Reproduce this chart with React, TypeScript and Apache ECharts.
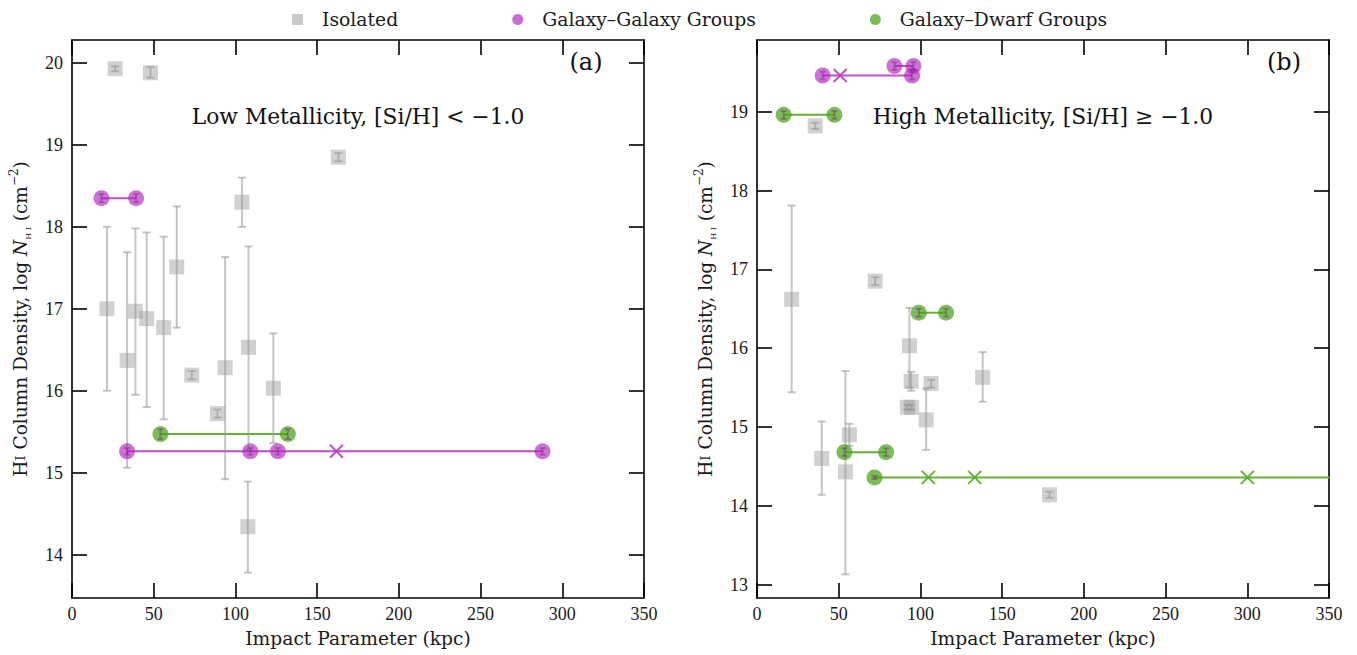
import { useEffect, useRef } from "react";
import * as echarts from "echarts";

// ---------- data ----------
// Isolated galaxies: [impact parameter (kpc), log N_HI, lower bound, upper bound]
const isolatedLow: number[][] = [
  [26.4, 19.93, 19.9, 19.96],
  [48.0, 19.88, 19.82, 19.95],
  [163.0, 18.85, 18.8, 18.9],
  [104.0, 18.3, 18.0, 18.6],
  [21.4, 17.0, 16.0, 18.0],
  [33.7, 16.37, 15.06, 17.69],
  [38.8, 16.97, 15.95, 17.98],
  [45.7, 16.88, 15.8, 17.93],
  [56.1, 16.77, 15.65, 17.88],
  [64.1, 17.51, 16.77, 18.25],
  [73.3, 16.19, 16.14, 16.24],
  [89.0, 15.72, 15.67, 15.77],
  [93.7, 16.28, 14.92, 17.63],
  [108.0, 16.53, 15.28, 17.76],
  [123.2, 16.03, 15.36, 16.7],
  [107.6, 14.34, 13.78, 14.89],
];
const isolatedHigh: number[][] = [
  [35.6, 18.82, 18.78, 18.86],
  [21.2, 16.62, 15.44, 17.81],
  [72.3, 16.85, 16.8, 16.9],
  [93.3, 16.03, 15.5, 16.51],
  [94.3, 15.58, 15.46, 15.7],
  [92.0, 15.25, 15.22, 15.28],
  [94.6, 15.25, 15.22, 15.28],
  [106.5, 15.55, 15.5, 15.6],
  [103.5, 15.09, 14.71, 15.49],
  [138.1, 15.63, 15.32, 15.95],
  [39.6, 14.6, 14.14, 15.07],
  [56.5, 14.9, 14.76, 15.04],
  [54.1, 14.43, 13.13, 15.71],
  [179.0, 14.14, 14.1, 14.18],
];
// Groups: y = log N_HI of the absorber, det = member galaxies (circles), lim = members shown as crosses
type Group = { y: number; det: number[]; lim: number[]; err: number };
const ggLow: Group[] = [
  { y: 18.35, det: [18.0, 39.2], lim: [], err: 0.05 },
  { y: 15.26, det: [33.7, 109.1, 126.0, 287.9], lim: [161.8], err: 0.04 },
];
const gdLow: Group[] = [{ y: 15.47, det: [54.1, 132.1], lim: [], err: 0.06 }];
const ggHigh: Group[] = [
  { y: 19.46, det: [40.2, 94.9], lim: [50.9], err: 0.05 },
  { y: 19.58, det: [84.1, 95.7], lim: [], err: 0.05 },
];
const gdHigh: Group[] = [
  { y: 18.96, det: [16.3, 47.4], lim: [], err: 0.05 },
  { y: 16.45, det: [99.0, 115.7], lim: [], err: 0.05 },
  { y: 14.68, det: [53.5, 79.0], lim: [], err: 0.05 },
  { y: 14.36, det: [71.9], lim: [104.9, 133.2, 300.0, 372.0], err: 0.02 },
];

const xMin = 0;
const xMax = 350;
const xInterval = 50;
const yRangeLow = [13.47, 20.28];
const yRangeHigh = [12.83, 19.91];
const yTicksLow = [14, 15, 16, 17, 18, 19, 20];
const yTicksHigh = [13, 14, 15, 16, 17, 18, 19];

// ---------- style ----------
const FONT = "'DejaVu Serif', 'Liberation Serif', serif";
const TICKFONT = "'Liberation Serif', 'DejaVu Serif', serif";
const GRAY = "rgba(150,150,150,0.55)";
const MAG = "rgba(176,40,188,0.82)";
const MAG_LINE = "rgba(185,60,195,0.9)";
const GRN = "rgba(70,160,20,0.88)";
const GRN_LINE = "rgba(95,172,45,0.95)";
const INK = "#1a1a1a";

function errBarSeries(name: string, idx: number, rows: number[][], color: string, cap: number, z: number) {
  return {
    name,
    type: "custom",
    xAxisIndex: idx * 2,
    yAxisIndex: idx * 2,
    z,
    silent: true,
    data: rows.map((r) => [r[0], r[2], r[3]]),
    encode: { x: 0, y: [1, 2] },
    renderItem: (_p: any, api: any) => {
      const x = api.value(0);
      const top = api.coord([x, api.value(2)]);
      const bot = api.coord([x, api.value(1)]);
      const st = { stroke: color, lineWidth: 2, fill: "none" };
      return {
        type: "group",
        children: [
          { type: "line", shape: { x1: top[0], y1: top[1], x2: bot[0], y2: bot[1] }, style: st },
          { type: "line", shape: { x1: top[0] - cap, y1: top[1], x2: top[0] + cap, y2: top[1] }, style: st },
          { type: "line", shape: { x1: bot[0] - cap, y1: bot[1], x2: bot[0] + cap, y2: bot[1] }, style: st },
        ],
      };
    },
  };
}

function crossSeries(name: string, idx: number, pts: number[][], color: string) {
  return {
    name,
    type: "custom",
    xAxisIndex: idx * 2,
    yAxisIndex: idx * 2,
    z: 6,
    silent: true,
    data: pts,
    encode: { x: 0, y: 1 },
    renderItem: (_p: any, api: any) => {
      const c = api.coord([api.value(0), api.value(1)]);
      const s = 6.5;
      const st = { stroke: color, lineWidth: 2, fill: "none" };
      return {
        type: "group",
        children: [
          { type: "line", shape: { x1: c[0] - s, y1: c[1] - s, x2: c[0] + s, y2: c[1] + s }, style: st },
          { type: "line", shape: { x1: c[0] - s, y1: c[1] + s, x2: c[0] + s, y2: c[1] - s }, style: st },
        ],
      };
    },
  };
}

function groupSeries(legendName: string, idx: number, groups: Group[], color: string, lineColor: string) {
  const out: any[] = [];
  groups.forEach((g, gi) => {
    const xs = [...g.det, ...g.lim];
    out.push({
      name: `${legendName}-line-${idx}-${gi}`,
      type: "line",
      xAxisIndex: idx * 2,
      yAxisIndex: idx * 2,
      z: 2,
      silent: true,
      symbol: "none",
      clip: true,
      data: [
        [Math.min(...xs), g.y],
        [Math.max(...xs), g.y],
      ],
      lineStyle: { color: lineColor, width: 2 },
    });
  });
  out.push({
    name: legendName,
    type: "scatter",
    xAxisIndex: idx * 2,
    yAxisIndex: idx * 2,
    z: 5,
    symbol: "circle",
    symbolSize: 16,
    itemStyle: { color },
    data: groups.flatMap((g) => g.det.map((x) => [x, g.y])),
  });
  out.push(
    errBarSeries(
      `${legendName}-err-${idx}`,
      idx,
      groups.flatMap((g) => g.det.map((x) => [x, g.y, g.y - g.err, g.y + g.err])),
      "rgba(120,20,130,0.35)",
      3,
      6
    )
  );
  const crosses = groups.flatMap((g) => g.lim.filter((x) => x <= xMax).map((x) => [x, g.y]));
  if (crosses.length) out.push(crossSeries(`${legendName}-lim-${idx}`, idx, crosses, lineColor));
  return out;
}

const axisLineStyle = { color: "#000", width: 1.6 };
const labelStyle = { fontFamily: TICKFONT, fontSize: 18, color: INK };

function xAxes(grid: number) {
  const base = {
    gridIndex: grid,
    type: "value",
    min: xMin,
    max: xMax,
    interval: xInterval,
    splitLine: { show: false },
    axisLine: { show: true, onZero: false, lineStyle: axisLineStyle },
    axisTick: { show: true, inside: true, length: 15, lineStyle: { color: "#000", width: 1.6 } },
  };
  return [
    {
      ...base,
      position: "bottom",
      axisLabel: { ...labelStyle, margin: 7 },
      name: "Impact Parameter (kpc)",
      nameLocation: "middle",
      nameGap: 31,
      nameTextStyle: { fontFamily: FONT, fontSize: 18.7, color: INK },
    },
    { ...base, position: "top", axisLabel: { show: false } },
  ];
}

const yName =
  "{a|H}{s|I}{a| Column Density, log }{i|N}{b|H I}{a| (cm}{p|−2}{a|)}";
const yRich = {
  a: { fontFamily: FONT, fontSize: 18.5, color: INK, lineHeight: 24 },
  s: { fontFamily: FONT, fontSize: 13.5, color: INK, lineHeight: 24 },
  i: { fontFamily: FONT, fontSize: 18.5, fontStyle: "italic", color: INK, lineHeight: 24 },
  b: { fontFamily: FONT, fontSize: 8, color: INK, lineHeight: 8, verticalAlign: "bottom" },
  p: { fontFamily: FONT, fontSize: 12, color: INK, lineHeight: 12, verticalAlign: "top" },
};

function yAxes(grid: number, range: number[], ticks: number[]) {
  const base = {
    gridIndex: grid,
    type: "value",
    min: range[0],
    max: range[1],
    splitLine: { show: false },
    axisLine: { show: true, onZero: false, lineStyle: axisLineStyle },
    axisTick: {
      show: true,
      inside: true,
      length: 15,
      customValues: ticks,
      lineStyle: { color: "#000", width: 1.6 },
    },
  };
  return [
    {
      ...base,
      position: "left",
      axisLabel: { ...labelStyle, margin: 9, customValues: ticks },
      name: yName,
      nameLocation: "middle",
      nameGap: 40,
      nameRotate: 90,
      nameTextStyle: { rich: yRich },
    },
    { ...base, position: "right", axisLabel: { show: false } },
  ];
}

function panelText(x: number, y: number, text: string, size: number) {
  return {
    type: "text",
    x,
    y,
    z: 10,
    style: {
      text,
      fontFamily: FONT,
      fontSize: size,
      fill: "#111",
      textAlign: "center",
      textVerticalAlign: "middle",
    },
  };
}

export default function App() {
  const ref = useRef<HTMLDivElement>(null);
  useEffect(() => {
    if (!ref.current) return;
    const chart = echarts.init(ref.current, undefined, { renderer: "svg" });
    const series: any[] = [];
    [isolatedLow, isolatedHigh].forEach((rows, idx) => {
      series.push({
        name: "Isolated",
        type: "scatter",
        xAxisIndex: idx * 2,
        yAxisIndex: idx * 2,
        z: 3,
        symbol: "rect",
        symbolSize: 15,
        itemStyle: { color: GRAY },
        data: rows.map((r) => [r[0], r[1]]),
      });
      series.push(errBarSeries(`iso-err-${idx}`, idx, rows, GRAY, 4, 4));
    });
    series.push(...groupSeries("Galaxy–Galaxy Groups", 0, ggLow, MAG, MAG_LINE));
    series.push(...groupSeries("Galaxy–Dwarf Groups", 0, gdLow, GRN, GRN_LINE));
    series.push(...groupSeries("Galaxy–Galaxy Groups", 1, ggHigh, MAG, MAG_LINE));
    series.push(...groupSeries("Galaxy–Dwarf Groups", 1, gdHigh, GRN, GRN_LINE));

    chart.setOption({
      animation: false,
      legend: {
        top: 5,
        left: 287,
        itemWidth: 11,
        itemHeight: 11,
        itemGap: 114,
        selectedMode: false,
        textStyle: { fontFamily: FONT, fontSize: 18.8, color: INK, padding: [0, 0, 0, 14] },
        data: [
          { name: "Isolated", icon: "rect", itemStyle: { color: "#bdbdbd" } },
          { name: "Galaxy–Galaxy Groups", icon: "circle", itemStyle: { color: "#bb44c8" } },
          { name: "Galaxy–Dwarf Groups", icon: "circle", itemStyle: { color: "#5aaa2c" } },
        ],
      },
      grid: [
        { left: 72, top: 40, width: 572, height: 558 },
        { left: 757, top: 40, width: 572, height: 558 },
      ],
      xAxis: [...xAxes(0), ...xAxes(1)],
      yAxis: [...yAxes(0, yRangeLow, yTicksLow), ...yAxes(1, yRangeHigh, yTicksHigh)],
      graphic: [
        panelText(586, 62, "(a)", 24),
        panelText(1284, 62, "(b)", 24),
        panelText(358, 116, "Low Metallicity, [Si/H] < −1.0", 21.8),
        panelText(1043, 116, "High Metallicity, [Si/H] ≥ −1.0", 21.8),
      ],
      series,
    });
    return () => chart.dispose();
  }, []);
  return (
    <div
      ref={ref}
      style={{ position: "absolute", left: 0, top: 0, width: 1357, height: 655 }}
    />
  );
}
